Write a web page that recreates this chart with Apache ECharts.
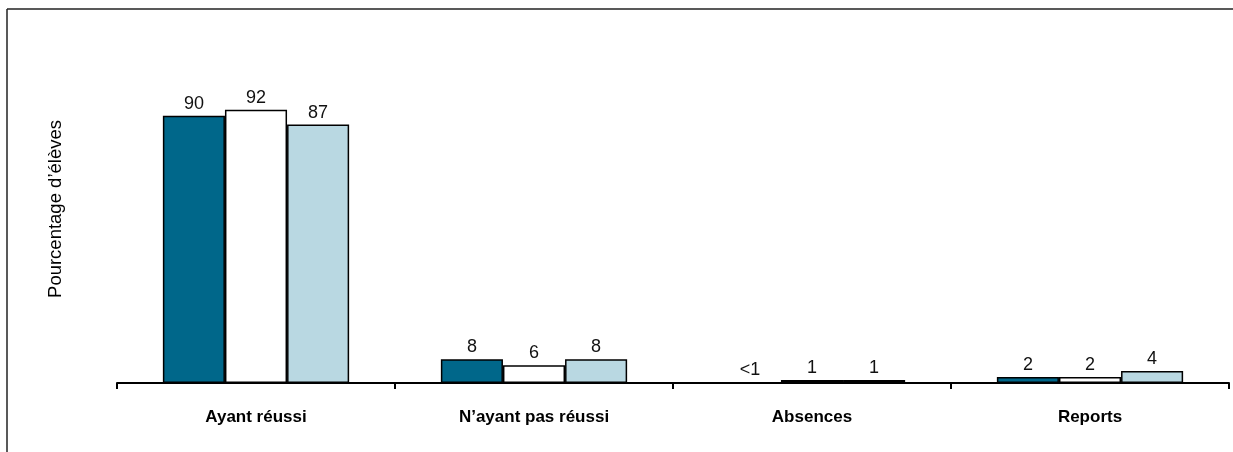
<!DOCTYPE html>
<html>
<head>
<meta charset="utf-8">
<script src="https://cdn.jsdelivr.net/npm/echarts@6/dist/echarts.min.js"></script>
<style>
  html, body { margin: 0; padding: 0; background: #fff; }
  #main { width: 1233px; height: 452px; }
</style>
</head>
<body>
<div id="main"></div>
<script>
var categories = ["Ayant réussi", "N\u2019ayant pas réussi", "Absences", "Reports"];
var seriesNames = ["Série 1", "Série 2", "Série 3"];
var values1 = [90, 8, 0, 2];
var values2 = [92, 6, 1, 2];
var values3 = [87, 8, 1, 4];
var labels1 = ["90", "8", "<1", "2"];
var labels2 = ["92", "6", "1", "2"];
var labels3 = ["87", "8", "1", "4"];

var chartDom = document.getElementById("main");
var myChart = echarts.init(chartDom);
var option;

var colors = ["#00678a", "#ffffff", "#b9d8e2"];
var allValues = [values1, values2, values3];
var allLabels = [labels1, labels2, labels3];

function makeSeries(i) {
    return {
        name: seriesNames[i],
        type: "bar",
        barGap: "0%",
        barCategoryGap: "33%",
        itemStyle: {
            color: colors[i],
            borderColor: "#000",
            borderWidth: 1.5,
        },
        label: {
            show: true,
            position: "top",
            distance: 3,
            color: "#111",
            fontSize: 18,
            fontFamily: "Liberation Sans",
            formatter: function (p) {
                return allLabels[i][p.dataIndex];
            },
        },
        data: allValues[i],
    };
}

option = {
    backgroundColor: "#fff",
    animation: false,
    grid: {
        left: 117,
        right: 4,
        top: 86,
        bottom: 69,
    },
    xAxis: {
        type: "category",
        data: categories,
        axisLine: {
            lineStyle: { color: "#000", width: 2 },
        },
        axisTick: {
            show: true,
            length: 6,
            lineStyle: { color: "#000", width: 2 },
        },
        axisLabel: {
            color: "#000",
            fontSize: 17,
            fontWeight: "bold",
            fontFamily: "Liberation Sans",
            margin: 26,
        },
    },
    yAxis: {
        type: "value",
        min: 0,
        max: 100,
        show: false,
    },
    graphic: [
        {
            type: "line",
            shape: { x1: 7, y1: 9, x2: 1233, y2: 9 },
            style: { stroke: "#222", lineWidth: 1.5 },
        },
        {
            type: "line",
            shape: { x1: 7, y1: 9, x2: 7, y2: 452 },
            style: { stroke: "#222", lineWidth: 1.5 },
        },
        {
            type: "text",
            x: 56,
            y: 209,
            rotation: Math.PI / 2,
            style: {
                text: "Pourcentage d\u2019élèves",
                fill: "#000",
                font: "18.5px 'Liberation Sans'",
                align: "center",
                verticalAlign: "middle",
            },
        },
    ],
    series: [makeSeries(0), makeSeries(1), makeSeries(2)],
};

option && myChart.setOption(option);
window.addEventListener("resize", function () {
    myChart.resize();
});
</script>
</body>
</html>
